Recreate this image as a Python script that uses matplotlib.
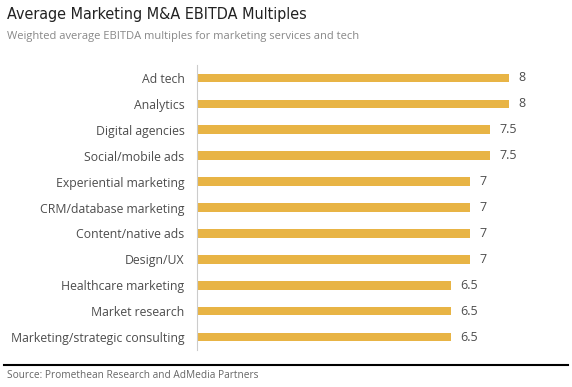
import matplotlib
matplotlib.use("Agg")
import matplotlib.pyplot as plt

categories = ["Ad tech", "Analytics", "Digital agencies", "Social/mobile ads",
              "Experiential marketing", "CRM/database marketing", "Content/native ads",
              "Design/UX", "Healthcare marketing", "Market research",
              "Marketing/strategic consulting"]
multiples = [8, 8, 7.5, 7.5, 7, 7, 7, 7, 6.5, 6.5, 6.5]
value_labels = ["8", "8", "7.5", "7.5", "7", "7", "7", "7", "6.5", "6.5", "6.5"]

BAR = "#E8B445"
TEXT = "#4d4d4d"
plt.rcParams["font.family"] = ["Open Sans", "DejaVu Sans"]

fig = plt.figure(figsize=(5.72, 3.87), dpi=100)
# axes: left edge at x=197px, bars from y~65 to ~350
ax = fig.add_axes([197 / 572, 1 - 350 / 387, (565 - 197) / 572, (350 - 65) / 387])

y = list(range(len(categories)))
ax.barh(y, multiples, height=0.33, color=BAR)
ax.set_ylim(len(categories) - 0.5, -0.5)
ax.set_xlim(0, 368 / 39)

for yi, v, lab in zip(y, multiples, value_labels):
    ax.text(v + 0.25, yi, lab, va="center", ha="left", fontsize=9, color=TEXT)

ax.set_yticks(y)
ax.set_yticklabels(categories, fontsize=8.8, color=TEXT)
ax.tick_params(axis="y", length=0, pad=9)
ax.set_xticks([])
for s in ["top", "right", "bottom"]:
    ax.spines[s].set_visible(False)
ax.spines["left"].set_color("#cccccc")
ax.spines["left"].set_linewidth(0.8)

fig.text(7 / 572, 1 - 15 / 387, "Average Marketing M&A EBITDA Multiples",
         fontsize=11.5, color="#222222", va="center", ha="left",
         family="DejaVu Sans", fontstretch="condensed")
fig.text(7 / 572, 1 - 37 / 387, "Weighted average EBITDA multiples for marketing services and tech",
         fontsize=8, color="#888888", va="center", ha="left")

fig.add_artist(plt.Line2D([4 / 572, 568 / 572], [1 - 365 / 387, 1 - 365 / 387],
                          color="black", linewidth=1.5, transform=fig.transFigure))
fig.text(7 / 572, 1 - 375 / 387, "Source: Promethean Research and AdMedia Partners",
         fontsize=7.3, color="#666666", va="center", ha="left")

fig.savefig("out.png", dpi=100)
